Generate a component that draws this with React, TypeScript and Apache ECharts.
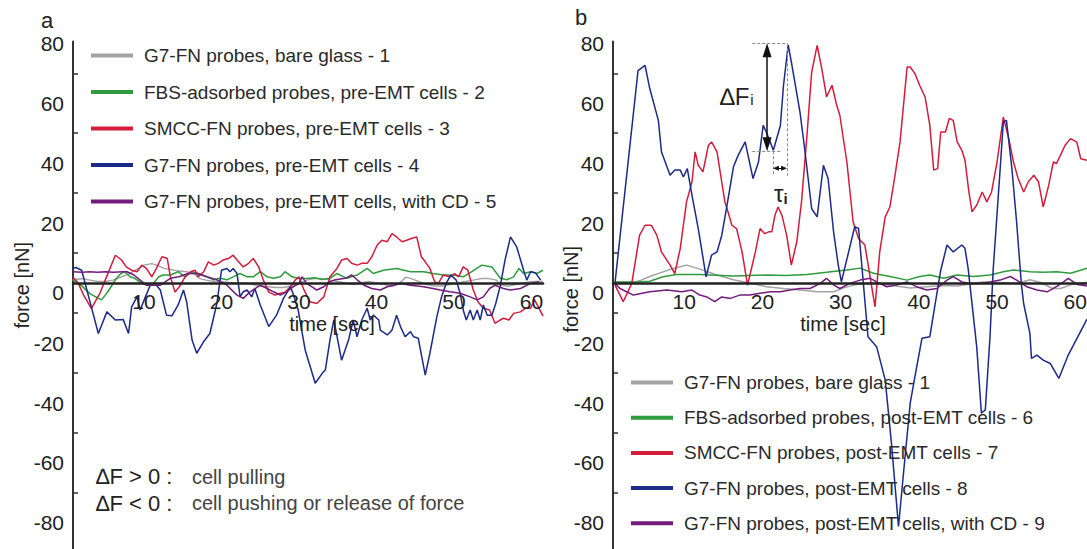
import React, { useEffect, useRef } from "react";
import * as echarts from "echarts";

const FONT = "'Liberation Sans', Arial, Helvetica, sans-serif";

// ---------- tick values ----------
const X_TICKS = [10, 20, 30, 40, 50, 60];
const Y_TICKS = [-80, -60, -40, -20, 0, 20, 40, 60, 80];
const Y_MINOR = [-70, -50, -30, -10, 10, 30, 50, 70];

// ---------- legend names ----------
const NAMES_A = [
  "G7-FN probes, bare glass - 1",
  "FBS-adsorbed probes, pre-EMT cells - 2",
  "SMCC-FN probes, pre-EMT cells - 3",
  "G7-FN probes, pre-EMT cells - 4",
  "G7-FN probes, pre-EMT cells, with CD - 5",
];
const NAMES_B = [
  "G7-FN probes, bare glass - 1",
  "FBS-adsorbed probes, post-EMT cells - 6",
  "SMCC-FN probes, post-EMT cells - 7",
  "G7-FN probes, post-EMT cells - 8",
  "G7-FN probes, post-EMT cells, with CD - 9",
];
const COLORS = ["#a3a3a3", "#2c9c3c", "#d41c3c", "#1c2a8a", "#731c7e"];

// ---------- panel a data [time s, force nN] ----------
const grayA = [[0.8,1],[2,1.5],[3,1],[4,0.5],[5,0.5],[6,1],[7,2],[8,3],[9,4.5],[10,6],[11,6.5],[11.6,6],[12.5,5],[13.5,4.5],[14.5,4],[15.5,3.8],[16.5,3],[17.2,1.5],[18,1],[19,0.5],[20,0.5],[21,0.2],[22,0],[23,0],[24,-0.5],[25,-1],[26,-1.2],[27,-1.5],[28,-1.5],[29,-1],[30,0],[31,1],[32,1.5],[33,1.5],[34,1],[35,0.5],[36,0],[37,-0.5],[38,0],[39,0.5],[40,0],[41,-0.5],[42,-1],[43,0],[43.8,2],[44.5,1.5],[45.5,0.5],[46.5,-0.5],[47.5,-1],[48.5,-1],[49.5,-0.5],[50.5,0],[51.5,0.5],[52.5,1],[53.5,1.5],[54.5,1.5],[55.5,1],[56,-0.7],[57,-1],[58,-0.5],[59,0],[60,0.5],[61.5,0.5]];
const greenA = [[0.8,1.1],[2,-1],[3,-3.5],[4.5,-5.6],[5,-4],[5.6,-1.8],[6.3,1.1],[7,3.2],[7.5,3.8],[8.2,2.1],[8.8,1.6],[9.7,-0.1],[10.6,-0.7],[11.2,-0.1],[11.9,2.1],[12.5,2.7],[13.4,2.7],[14.4,3.8],[15.3,2.1],[16.2,3.8],[17,3.2],[18.1,2.1],[19,1.1],[19.8,1.6],[20.7,1.1],[21.5,2.1],[22.4,3.2],[23.3,2.1],[24.1,2.1],[25,3.8],[25.9,2.1],[26.7,1.6],[27.6,2.1],[28.2,3.8],[29.1,2.1],[29.9,1.6],[31,1.5],[32,1.8],[33,1.2],[34,1.6],[34.9,3.2],[36.2,1.6],[37.5,2.7],[38.8,4.9],[39.6,3.2],[40.9,4.3],[42.6,4.9],[44.4,3.8],[46.1,3.8],[47.3,3.2],[48.6,2.7],[49.9,2.7],[51.2,2.1],[52.3,3.8],[53.6,6],[54.9,5.4],[56,1.6],[56.8,1.1],[57.7,2.1],[58.4,4.9],[59,3.2],[59.9,3.8],[60.7,3.2],[61.5,4.3]];
const redA = [[0.8,2],[1.5,0],[2.2,-4],[3.2,-8.4],[4.3,-3.4],[5.3,3],[6.3,9.3],[7.1,7.7],[7.7,5.4],[8.4,4.3],[9.1,3.8],[9.7,6],[10.3,4.9],[11,2.1],[11.6,4.9],[12.3,8.8],[13,8.2],[13.4,2.1],[14,-3],[14.7,-0.7],[15.3,2.1],[16,3.8],[16.6,4.3],[17,2.1],[17.7,3.8],[18.3,7.1],[19,6],[19.6,6.6],[20.2,7.7],[20.9,8.2],[21.5,9.3],[22.2,7.1],[22.8,5.4],[23.5,6.6],[24.1,8.2],[24.8,5.4],[25.4,1],[26.1,-3],[26.9,-4],[27.6,-3.4],[28.2,-3],[28.9,-1.2],[29.5,1],[30,2.1],[30.6,-2],[31.4,-6.2],[32.3,-6.8],[33.2,-4.6],[34,2.1],[34.9,4.9],[35.5,7.7],[36.2,8.2],[36.8,6.6],[37.5,6],[38.1,6.6],[38.8,6.6],[39.4,8.8],[40.1,12.7],[40.7,14.3],[41.4,13.8],[42,16.5],[42.6,15.4],[43.3,13.8],[43.9,14.3],[44.5,14.9],[45.2,15.4],[45.8,8.8],[46.3,7.1],[46.9,4.9],[47.5,0.5],[48,-0.1],[48.6,2.7],[49.5,2.1],[50.1,3.2],[50.6,2.1],[51.2,5.4],[51.8,4.3],[52.5,-2.3],[53.1,-6.2],[53.8,-8.4],[54.6,-9],[55.3,-13.4],[56,-12.3],[56.4,-11.7],[57.1,-12.3],[57.7,-10.1],[58.6,-9.6],[59.2,-8.4],[59.9,-8.4],[60.4,-5.5],[61.5,-11]];
const blueA = [[0.7,4.9],[1.2,5.2],[1.95,4.3],[3,-6],[4.1,-16.8],[5.2,-9.6],[6.3,-12.3],[7.3,-12.1],[8,-16.8],[8.4,-7.9],[9.1,-4.6],[9.5,-9],[10.1,-5.1],[10.8,-0.7],[11.6,-0.7],[12.1,-2.3],[12.9,-10.7],[13.6,-10.9],[14.4,-7.3],[15.1,-2.3],[15.5,-6.2],[16.2,-19],[16.8,-23.4],[17.7,-19.5],[18.5,-16.8],[19.4,-6.8],[20,4.3],[20.7,4.9],[21.1,3.8],[21.5,4.9],[22,3.2],[22.4,-4.6],[22.8,-2.9],[23.3,-2.3],[23.9,-4.6],[24.3,-1.8],[25,-7.3],[26.1,-14.5],[27.1,-10.7],[28,-5.1],[28.9,-1.2],[29.3,-4],[29.9,-9],[30.8,-22.3],[32.1,-33.4],[33,-30.1],[33.4,-29],[34,-19],[34.5,-12.3],[35.5,-25.7],[36.4,-19],[37,-12.3],[37.5,-17.9],[38.1,-12.3],[38.8,-8.4],[39.2,-12.3],[39.6,-10.7],[40.3,-12.3],[40.5,-15.7],[41.4,-17.3],[42,-15.7],[42.6,-10.7],[43.1,-14.5],[43.7,-17.9],[44.4,-16.2],[44.8,-17.9],[45.4,-18.4],[46.3,-30.7],[46.9,-23.4],[47.8,-11.2],[48.4,-4.6],[49,-0.1],[49.6,2.7],[50.3,1],[50.8,-3.4],[51.2,-9],[51.6,-12.3],[52.1,-9],[52.5,-12.3],[53,-9],[53.4,-12.3],[53.8,-7.3],[54.3,-10.7],[54.9,-10.7],[55.4,-6.8],[56,-0.7],[56.6,7.7],[57.3,15.4],[58.1,12.1],[59,4.3],[59.4,1],[59.9,3.8],[60.5,3.5],[61.2,1]];
const purpleA = [[0.8,3.8],[2,3.6],[3,3.8],[4,3.6],[5,3.8],[6,3.6],[7.3,3.8],[7.8,3.8],[8.7,2.7],[9.5,1],[10.3,-0.7],[11.2,-0.7],[12.1,-0.7],[13.4,1.6],[14.5,2.1],[15.7,3.2],[16.9,3.2],[18.1,2.1],[19.4,1.1],[20.7,-0.7],[22,-4],[22.8,-5.1],[23.7,-2.9],[25,-0.7],[25.9,-1.8],[26.7,-2.9],[27.6,-4],[28.4,-2.9],[29.3,-1.2],[30,-0.1],[30.4,2.1],[31,-0.1],[32.3,-2.3],[33.2,-1.2],[34,0.5],[34.7,1.1],[36,1.6],[36.8,2.7],[37.5,1.1],[38.4,-0.7],[39.4,-1.8],[40.5,-2.3],[41.4,-1.2],[42.3,-0.7],[43.1,-0.1],[44.4,-0.7],[46.1,-1.2],[47.3,-1.8],[48.2,-2.3],[49.5,-2.9],[50.8,-3.4],[52.1,-4.6],[53,-5.6],[53.8,-4.6],[54.6,-1.8],[55.3,-0.7],[56.4,-1.8],[57.3,-2.3],[58.6,-1.8],[59.9,-0.1],[61,0.5]];

// ---------- panel b data [time s, force nN] ----------
const grayB = [[1.15,0.4],[2.5,0.3],[3.5,0.2],[4.5,1],[5.6,2.2],[7,3.5],[8.5,4.8],[10.3,6],[11,5.5],[12.2,4.5],[14.2,2.7],[16.3,1.1],[18.4,0],[20.5,-1.2],[22.7,-1.8],[24.8,-2.3],[27,-2.9],[29.1,-2.9],[30.5,-1.5],[32,-0.5],[34,0],[36.2,-0.6],[38.9,-1.6],[41,-1.2],[43,-0.8],[44.9,-1],[46.5,-0.3],[48.2,0.4],[50.5,0.2],[52.5,-0.1],[54.2,1.1],[55.5,0.3],[57.1,-1.8],[58.1,-1.8],[59.5,-0.5],[61.5,0.3]];
const greenB = [[1.15,0.4],[3.8,0.4],[5.6,0.6],[7.3,2.1],[9,2.9],[12,2.9],[16.3,2.4],[20.5,2.7],[23,2.5],[25.7,2.9],[28.2,3.6],[30.8,4.4],[32.5,5],[34.2,3.3],[36.3,2.2],[38.5,1],[40.1,2.2],[41.4,2.7],[43.2,1.6],[44.9,2.7],[47,2.2],[49.1,2.7],[50.8,3.8],[52.1,4.4],[54.2,3.8],[55.9,3.6],[57.6,3.8],[59.4,3.3],[61.5,5]];
const redB = [[1.15,-0.6],[2.2,-6.2],[3.3,-0.1],[4.3,16],[5,19.3],[5.8,19.3],[6.5,16],[7.1,10.4],[8.2,6],[8.8,3.2],[9.5,11.6],[10.3,27.1],[11,33.8],[11.4,43.8],[11.8,39.3],[12.4,37.1],[13.1,46],[13.5,47.1],[14.2,43.8],[14.8,33.8],[15.2,27.1],[15.6,23.8],[16.1,19.3],[16.7,18.2],[17.4,10.4],[18.1,-0.7],[19.1,10.4],[19.7,18.2],[20.3,16.5],[20.8,17.1],[21.2,17.1],[21.6,22.6],[22,25.4],[22.5,22.6],[23.1,16],[23.7,6],[24.4,13.8],[25,27.1],[25.7,49.3],[26.3,70.4],[27,79.3],[27.6,71.5],[28.2,62.1],[28.9,66],[29.5,59.3],[29.9,56],[30.8,40.4],[31.6,20.4],[32.3,14.9],[33.1,12.7],[34.4,-7.9],[35,10.4],[35.7,22.1],[36.3,25.4],[36.9,35],[37.6,47.1],[38.5,72.1],[38.9,72.1],[39.5,69.9],[40.1,66],[40.8,62.1],[41.4,52.7],[41.9,37.7],[42.4,38.2],[42.8,50.4],[43.4,50.4],[43.9,54.9],[44.4,54.3],[44.9,47.1],[45.5,44.3],[45.9,41],[46.4,30.4],[46.8,23.8],[47.4,26],[48.1,30.4],[48.7,27.1],[49.3,30.4],[50,40.4],[50.8,55.4],[51.5,48.2],[52.1,40.4],[52.7,34.9],[53.4,30.4],[54,33.8],[54.7,36],[55.3,33.8],[55.9,25.4],[56.6,32.6],[57.2,40.4],[57.6,39.9],[58.1,42.6],[58.7,46],[59.4,48.2],[60.2,47],[60.7,41.5],[61.5,41]];
const blueB = [[1.15,-0.1],[4.1,70.9],[5,72.6],[5.6,64.9],[6.7,54.3],[7.1,43.7],[8.2,36],[8.8,37.7],[9.5,37.7],[9.9,35.4],[10.4,38.2],[11,29.3],[11.8,18.2],[12.8,2.1],[13.5,9.3],[14.2,10.4],[14.8,15.9],[15.4,24.8],[16.3,38.8],[16.9,42.6],[17.8,47.1],[18.8,34.9],[19.5,40.4],[20.1,52.6],[20.5,50.4],[21,47.1],[21.4,44.3],[22.3,52.6],[22.7,66],[23.3,79.5],[23.7,73.8],[24.8,57.1],[25.4,44.9],[26.3,24.8],[27,22.1],[27.8,39.3],[28.4,34.9],[29.1,17.1],[29.7,6],[30.1,0.4],[31.8,18.8],[32.3,18.2],[33.5,-17.9],[34.6,-21.2],[35.7,-32.3],[36.5,-53.4],[37.4,-81.2],[38,-64.5],[38.9,-40],[39.5,-31.2],[40.4,-18.4],[41.4,-17.9],[42.1,-6.8],[42.8,4.3],[43.6,12.7],[44.4,10.4],[45.5,12.7],[45.9,11.6],[46.3,5],[47.4,-21.2],[48,-43.4],[48.5,-42.3],[49.1,-17.9],[49.5,4.3],[50.4,38.2],[50.8,53.8],[51.2,54.3],[51.9,38.2],[52.5,20.4],[53.1,-0.1],[53.4,-6.8],[54.2,-16.8],[54.4,-25.1],[55.1,-24],[55.9,-25.7],[56.8,-26.8],[57.9,-31.8],[58.5,-27.9],[59.1,-24],[61.5,-12]];
const purpleB = [[1.15,-0.1],[1.8,-1.8],[3.5,-4],[5.6,-2.9],[7.8,-2.3],[9.7,-2.9],[11,-2.3],[12,-4],[12.9,-4.6],[13.9,-6.2],[14.8,-4.6],[15.9,-5.1],[17.1,-4],[18.4,-4],[19.7,-3.4],[21,-2.9],[22.3,-2.9],[23.5,-2.3],[24.8,-1.8],[26.1,-1.8],[27.4,-0.1],[28.2,1.6],[29.1,-0.6],[29.9,-1.8],[31.2,-0.1],[32.5,1],[33.8,1.6],[34.6,0.4],[35.9,-1.2],[37.1,-0.6],[38.5,0.4],[39.7,-1.2],[41,-2.3],[42.3,-1.8],[43.6,1],[44.4,2.2],[45.5,0.4],[46.6,-0.1],[47.8,-0.1],[49.1,0.4],[50.4,1],[51.7,2.2],[52.5,1],[53.8,-1.2],[55.1,-2.3],[56.4,-2.9],[57.6,-1.2],[58.5,0.4],[59.1,1.6],[60.3,-0.5],[61.5,-1]];

// ---------- annotation values (panel b, in data units) ----------
const DF_T = 20.6;       // time of the ΔF arrow
const DF_TOP = 80;       // peak force
const DF_BOTTOM = 44;    // force before rise
const DASH_START_T = 18.7;
const PEAK_T = 23.15;
const TROUGH_T = 21.35;
const TAU_F = 38.3;

const Y_MIN = -88.7;
const Y_MAX = 80.6;

const GRID_TOP = 41.5;
const GRID_H = 507.5;
// shift of the x axis from the grid bottom up to force = 0
const ZERO_OFFSET = -(GRID_H * (0 - Y_MIN)) / (Y_MAX - Y_MIN);

function yAxis(gridIndex: number, nameGap: number, namePad: number) {
  return {
    type: "value",
    gridIndex,
    min: Y_MIN,
    max: Y_MAX,
    name: "force [nN]",
    nameLocation: "middle",
    nameGap,
    nameMoveOverlap: false,
    nameTextStyle: { fontSize: 20, color: "#222", fontFamily: FONT, padding: [0, 0, 0, namePad] },
    axisLine: { show: true, onZero: false, lineStyle: { color: "#333", width: 2 } },
    axisTick: { show: true, inside: true, length: 5, customValues: Y_MINOR, lineStyle: { color: "#333", width: 1.5 } },
    axisLabel: {
      customValues: Y_TICKS,
      fontSize: 21,
      color: "#222",
      fontFamily: FONT,
      margin: 9,
      formatter: (v: number) => (v === 0 ? "{z|0}" : String(v)),
      rich: { z: { fontSize: 21, color: "#222", fontFamily: FONT, padding: [18, 0, 0, 0] } },
    },
    splitLine: { show: false },
  };
}

function xAxis(gridIndex: number, min: number, max: number, namePad: number[]) {
  return {
    type: "value",
    gridIndex,
    min,
    max,
    z: 5,
    position: "bottom",
    offset: ZERO_OFFSET,
    name: "time [sec]",
    nameLocation: "middle",
    nameGap: 31,
    nameMoveOverlap: false,
    nameTextStyle: { fontSize: 20, color: "#222", fontFamily: FONT, padding: namePad },
    axisLine: { show: true, onZero: false, lineStyle: { color: "#222", width: 2.5 } },
    axisTick: { show: false },
    axisLabel: { customValues: X_TICKS, fontSize: 21, color: "#222", fontFamily: FONT, margin: 8 },
    splitLine: { show: false },
  };
}

function legend(data: string[], left: number, top: number, gap: number) {
  return {
    data,
    orient: "vertical",
    left,
    top,
    icon: "rect",
    itemWidth: 42,
    itemHeight: 4,
    itemGap: gap,
    selectedMode: false,
    textStyle: { fontSize: 19, color: "#2a2a2a", fontFamily: FONT, lineHeight: 21, padding: [0, 0, 0, 6] },
  };
}

function line(name: string, data: number[][], idx: number, color: string, extra: any = {}) {
  return {
    type: "line",
    name,
    data,
    xAxisIndex: idx,
    yAxisIndex: idx,
    showSymbol: false,
    symbol: "none",
    lineStyle: { color, width: 1.5 },
    itemStyle: { color },
    ...extra,
  };
}

const dash = { color: "#8a8a8a", width: 1, type: [3, 2] };

export default function App() {
  const ref = useRef<HTMLDivElement>(null);
  useEffect(() => {
    document.body.style.margin = "0";
    if (!ref.current) return;
    const chart = echarts.init(ref.current, undefined, { renderer: "svg" });
    const markLine = {
      silent: true,
      animation: false,
      label: { show: false },
      symbol: ["none", "none"],
      emphasis: { disabled: true },
      data: [
        [
          { coord: [DF_T, DF_TOP - 2.3], symbol: "triangle", symbolSize: [9, 14], lineStyle: { color: "#111", width: 1.5, type: "solid" } },
          { coord: [DF_T, DF_BOTTOM + 2.3], symbol: "triangle", symbolSize: [9, 14] },
        ],
        [{ coord: [DASH_START_T, DF_TOP], lineStyle: dash }, { coord: [PEAK_T, DF_TOP] }],
        [{ coord: [DASH_START_T, DF_BOTTOM], lineStyle: dash }, { coord: [TROUGH_T + 1.2, DF_BOTTOM] }],
        [{ coord: [PEAK_T, DF_TOP], lineStyle: dash }, { coord: [PEAK_T, TAU_F - 2.5] }],
        [{ coord: [TROUGH_T, DF_BOTTOM], lineStyle: dash }, { coord: [TROUGH_T, TAU_F - 2.5] }],
        [
          { coord: [TROUGH_T + 0.38, TAU_F], symbol: "triangle", symbolSize: [5, 6], lineStyle: { color: "#111", width: 1, type: "solid" } },
          { coord: [PEAK_T - 0.38, TAU_F], symbol: "triangle", symbolSize: [5, 6] },
        ],
      ],
    };
    const option: any = {
      animation: false,
      textStyle: { fontFamily: FONT },
      grid: [
        { left: 73, top: GRID_TOP, width: 470, height: GRID_H, containLabel: false, outerBoundsMode: "none" },
        { left: 613, top: GRID_TOP, width: 474, height: GRID_H, containLabel: false, outerBoundsMode: "none" },
      ],
      xAxis: [xAxis(0, 0.83, 61.5, [0, 0, 0, 48]), xAxis(1, 0.9, 61.5, [0, 14, 0, 0])],
      yAxis: [yAxis(0, 41, 20), yAxis(1, 32, 12)],
      legend: [legend(NAMES_A, 86, 40, 15.5), legend(NAMES_B, 626, 367, 14.2)],
      series: [
        line(NAMES_A[0], grayA, 0, COLORS[0]),
        line(NAMES_A[1], greenA, 0, COLORS[1]),
        line(NAMES_A[2], redA, 0, COLORS[2]),
        line(NAMES_A[3], blueA, 0, COLORS[3]),
        line(NAMES_A[4], purpleA, 0, COLORS[4]),
        line(NAMES_B[0], grayB, 1, COLORS[0]),
        line(NAMES_B[1], greenB, 1, COLORS[1]),
        line(NAMES_B[2], redB, 1, COLORS[2]),
        line(NAMES_B[3], blueB, 1, COLORS[3], { markLine }),
        line(NAMES_B[4], purpleB, 1, COLORS[4]),
      ],
      graphic: [
        { type: "text", left: 41, top: 9, style: { text: "a", fontSize: 22, fill: "#222", fontFamily: FONT } },
        { type: "text", left: 575, top: 6, style: { text: "b", fontSize: 22, fill: "#222", fontFamily: FONT } },
        { type: "text", left: 96, top: 465, style: { text: "∆F > 0 :", fontSize: 22, fill: "#222", fontFamily: FONT } },
        { type: "text", left: 192, top: 467, style: { text: "cell pulling", fontSize: 20, fill: "#444", fontFamily: FONT } },
        { type: "text", left: 96, top: 492, style: { text: "∆F < 0 :", fontSize: 22, fill: "#222", fontFamily: FONT } },
        { type: "text", left: 192, top: 493, style: { text: "cell pushing or release of force", fontSize: 20, fill: "#444", fontFamily: FONT } },
        {
          type: "text", left: 720, top: 84,
          style: { text: "{a|∆F}{b|i}", rich: { a: { fontSize: 24, fill: "#222", fontFamily: FONT }, b: { fontSize: 15, fill: "#222", fontFamily: FONT, padding: [6, 0, 0, 1] } } },
        },
        {
          type: "text", left: 774, top: 181,
          style: { text: "{a|τ}{b|i}", rich: { a: { fontSize: 24, fill: "#222", fontFamily: FONT }, b: { fontSize: 15, fontWeight: "bold", fill: "#222", fontFamily: FONT, padding: [10, 0, 0, 0] } } },
        },
      ],
    };
    chart.setOption(option);
    return () => chart.dispose();
  }, []);
  return <div ref={ref} style={{ position: "fixed", left: 0, top: 0, width: 1087, height: 549, background: "#fff" }} />;
}
